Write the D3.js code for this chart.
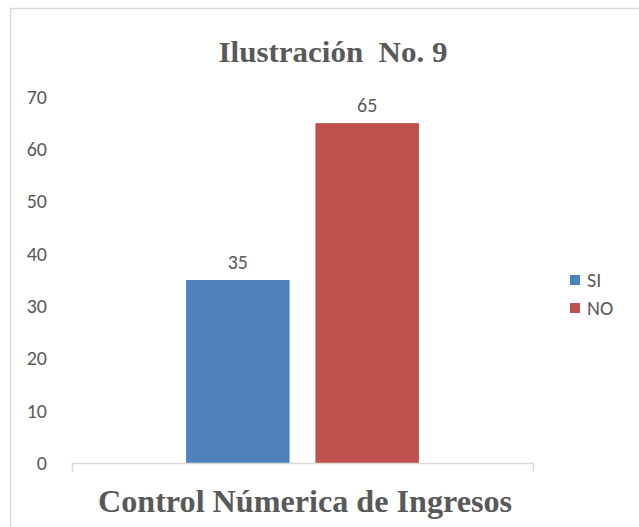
<!DOCTYPE html>
<html>
<head>
  <meta charset="utf-8">
  <script src="https://d3js.org/d3.v7.min.js"></script>
  <style>
    body { margin: 0; background: #fff; }
    text { fill: #595959; }
  </style>
</head>
<body>
<script>
  // chart values
  var categories = ["Control Númerica de Ingresos"];
  var seriesNames = ["SI", "NO"];
  var seriesValues = [35, 65];
  var seriesColors = ["#4f81bd", "#c0504d"];
  var yTicks = [0, 10, 20, 30, 40, 50, 60, 70];

  var W = 639, H = 527;
  var plot = { left: 72, right: 533, top: 97, bottom: 463 };

  var svg = d3.select("body").append("svg")
    .attr("width", W).attr("height", H);

  // chart area border (open at right/bottom, like the cropped source)
  svg.append("rect")
    .attr("x", 10.5).attr("y", 8.5)
    .attr("width", 700).attr("height", 600)
    .attr("fill", "none").attr("stroke", "#d9d9d9").attr("stroke-width", 1.5);

  var y = d3.scaleLinear().domain([0, 70]).range([plot.bottom, plot.top]);
  var x0 = d3.scaleBand().domain(categories)
    .range([plot.left, plot.right]).paddingInner(0).paddingOuter(0.49);
  var x1 = d3.scaleBand().domain(seriesNames)
    .range([0, x0.bandwidth()]).paddingInner(0.2).paddingOuter(0);

  var labelFont = "Carlito, 'Liberation Sans', Arial, sans-serif";

  // y labels
  var yAxis = d3.axisLeft(y).tickValues(yTicks).tickSize(0).tickPadding(0);
  var gy = svg.append("g").attr("transform", "translate(47,0)").call(yAxis);
  gy.select(".domain").remove();
  gy.selectAll("text")
    .style("font-family", labelFont)
    .style("font-size", "20px").style("fill", "#595959");

  // bars
  var data = seriesNames.map(function(s, i) {
    return { name: s, value: seriesValues[i], color: seriesColors[i] };
  });
  var g = svg.append("g").attr("transform", "translate(" + x0(categories[0]) + ",0)");
  g.selectAll("rect.bar").data(data).enter().append("rect")
    .attr("class", "bar")
    .attr("x", function(d) { return x1(d.name); })
    .attr("y", function(d) { return y(d.value); })
    .attr("width", x1.bandwidth())
    .attr("height", function(d) { return y(0) - y(d.value); })
    .attr("fill", function(d) { return d.color; });

  g.selectAll("text.lbl").data(data).enter().append("text")
    .attr("class", "lbl")
    .attr("x", function(d) { return x1(d.name) + x1.bandwidth() / 2; })
    .attr("y", function(d) { return y(d.value) - 11; })
    .attr("text-anchor", "middle")
    .style("font-family", labelFont)
    .style("font-size", "20px")
    .text(function(d) { return d.value; });

  // x axis baseline with end ticks
  svg.append("path")
    .attr("d", "M" + (plot.left + 0.5) + "," + (plot.bottom + 9) + "V" + (plot.bottom + 0.5) +
      "H" + (plot.right + 0.5) + "V" + (plot.bottom + 9))
    .attr("fill", "none").attr("stroke", "#d9d9d9").attr("stroke-width", 1.5);

  // titles
  svg.append("text")
    .attr("x", 333).attr("y", 62)
    .attr("text-anchor", "middle")
    .attr("textLength", 229).attr("lengthAdjust", "spacingAndGlyphs")
    .style("font-family", "'Liberation Serif', 'Times New Roman', serif")
    .style("font-weight", "bold").style("font-size", "30px")
    .style("white-space", "pre")
    .text("Ilustración  No. 9");

  svg.append("text")
    .attr("x", 305).attr("y", 512)
    .attr("text-anchor", "middle")
    .attr("textLength", 414).attr("lengthAdjust", "spacingAndGlyphs")
    .style("font-family", "'Liberation Serif', 'Times New Roman', serif")
    .style("font-weight", "bold").style("font-size", "32px")
    .text(categories[0]);

  // legend
  var lg = svg.append("g").selectAll("g").data(data).enter().append("g")
    .attr("transform", function(d, i) { return "translate(570," + (275 + i * 28) + ")"; });
  lg.append("rect").attr("width", 10).attr("height", 10)
    .attr("fill", function(d) { return d.color; });
  lg.append("text").attr("x", 17).attr("y", 12)
    .style("font-family", labelFont)
    .style("font-size", "20px")
    .text(function(d) { return d.name; });
</script>
</body>
</html>
